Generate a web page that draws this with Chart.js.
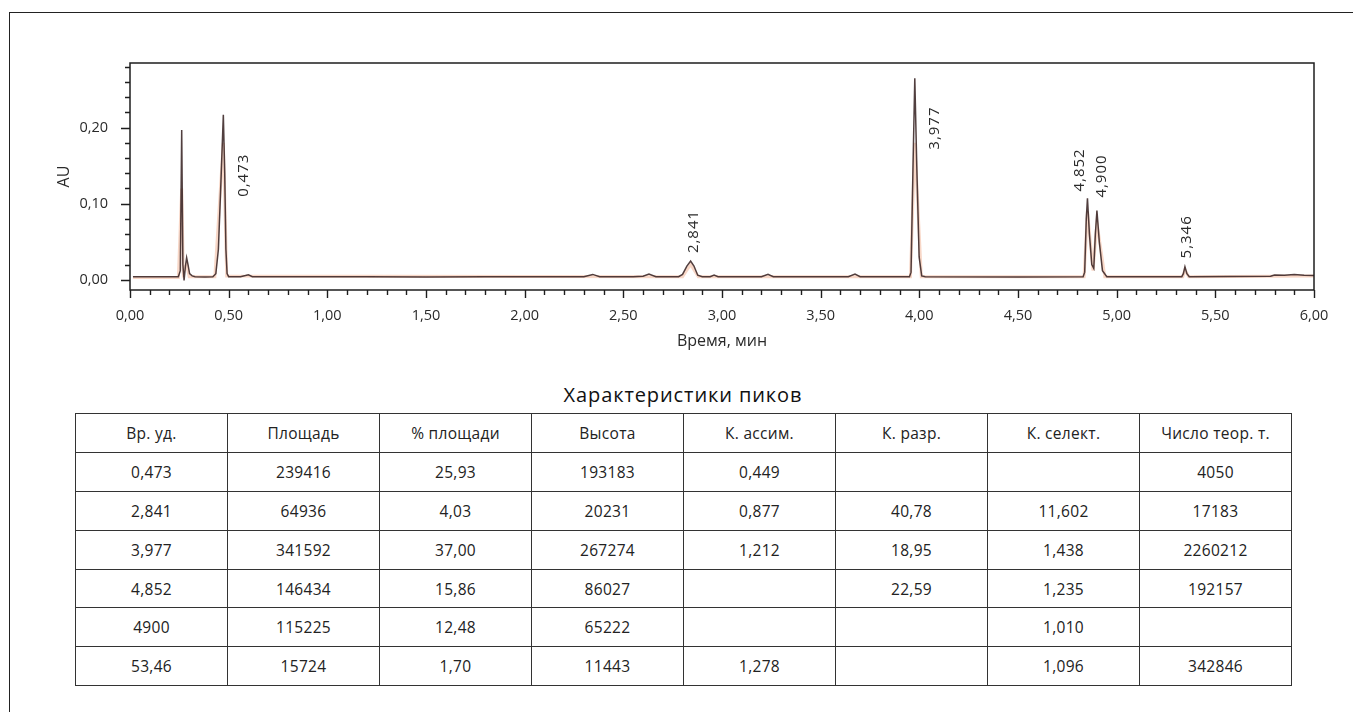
<!DOCTYPE html>
<html lang="ru">
<head>
<meta charset="utf-8">
<title>Хроматограмма</title>
<script src="https://cdn.jsdelivr.net/npm/chart.js@4.4.1/dist/chart.umd.min.js"></script>
<style>
  html, body { margin: 0; padding: 0; background: #ffffff; }
  body { width: 1353px; height: 712px; position: relative; overflow: hidden; font-family: "Open Sans", "Noto Sans", sans-serif; color: #222; }
  #frame { position: absolute; left: 9px; top: 12px; right: -4px; bottom: -4px; border-top: 1.5px solid #222; border-left: 1.5px solid #222; }
  #chart { position: absolute; left: 0; top: 0; }
  #tableTitle { position: absolute; left: 0; width: 1366px; top: 381px; text-align: center; font-size: 20px; letter-spacing: 0.9px; color: #111; }
  #peaks { position: absolute; left: 75px; top: 413px; border-collapse: collapse; table-layout: fixed; width: 1217px; font-size: 15.5px; letter-spacing: 0.3px; color: #222; }
  #peaks td, #peaks th { border: 1.5px solid #333; height: 37.9px; padding: 0; text-align: center; font-weight: 400; }
</style>
</head>
<body>
<div id="frame"></div>
<canvas id="chart" width="1353" height="360"></canvas>
<div id="tableTitle">Характеристики пиков</div>
<table id="peaks"><thead><tr id="headRow"></tr></thead><tbody id="bodyRows"></tbody></table>
<script>
// ---- Chromatogram trace (detector signal, AU vs. time, min) ----
const timeMin = [
  0.015, 0.10, 0.20, 0.245, 0.255, 0.262, 0.268, 0.274, 0.281, 0.287, 0.294, 0.302, 0.315, 0.33,
  0.38, 0.42, 0.435, 0.448, 0.461, 0.473, 0.480, 0.486, 0.492, 0.50, 0.56, 0.585, 0.60, 0.62,
  0.80, 1.00, 1.20, 1.50, 1.80, 2.00, 2.20, 2.30, 2.345, 2.38, 2.55, 2.60, 2.63, 2.665,
  2.78, 2.80, 2.822, 2.841, 2.858, 2.877, 2.90, 2.94, 2.96, 2.98, 3.20, 3.233, 3.26,
  3.64, 3.674, 3.70, 3.95, 3.958, 3.968, 3.977, 3.987, 3.999, 4.012, 4.03, 4.50,
  4.83, 4.838, 4.846, 4.852, 4.862, 4.874, 4.884, 4.892, 4.900, 4.912, 4.928, 4.95,
  5.33, 5.338, 5.346, 5.356, 5.368, 5.78, 5.80, 5.85, 5.90, 5.95, 6.00
];
const signalAU = [
  0.004, 0.0038, 0.004, 0.004, 0.012, 0.197, 0.02, -0.001, 0.018, 0.029, 0.02, 0.008, 0.005, 0.004,
  0.0035, 0.004, 0.008, 0.04, 0.13, 0.217, 0.14, 0.04, 0.008, 0.004, 0.004, 0.0055, 0.0065, 0.004,
  0.004, 0.0038, 0.004, 0.0035, 0.004, 0.0038, 0.004, 0.004, 0.007, 0.004, 0.004, 0.0045, 0.0075, 0.004,
  0.004, 0.007, 0.018, 0.0246, 0.018, 0.006, 0.004, 0.004, 0.006, 0.004, 0.004, 0.0072, 0.004,
  0.004, 0.0075, 0.004, 0.004, 0.01, 0.15, 0.265, 0.15, 0.03, 0.005, 0.004, 0.0035,
  0.004, 0.01, 0.08, 0.107, 0.06, 0.02, 0.015, 0.06, 0.091, 0.05, 0.012, 0.004,
  0.004, 0.008, 0.017, 0.008, 0.004, 0.0045, 0.0062, 0.006, 0.0068, 0.0058, 0.0055
];

// second (reference wavelength) trace, drawn underneath in orange
const refTimeMin = [
  0.015, 0.245, 0.262, 0.27, 0.287, 0.30, 0.43, 0.473, 0.49, 2.80, 2.841, 2.88,
  3.955, 3.977, 4.01, 4.835, 4.852, 4.88, 4.900, 4.94, 5.335, 5.346, 5.365, 6.00
];
const refSignalAU = [
  0.003, 0.003, 0.12, 0.01, 0.02, 0.004, 0.004, 0.18, 0.005, 0.004, 0.02, 0.004,
  0.004, 0.18, 0.004, 0.004, 0.09, 0.012, 0.075, 0.004, 0.004, 0.013, 0.004, 0.005
];

// annotated peaks (retention times, min)
const peakTimes = [0.473, 2.841, 3.977, 4.852, 4.900, 5.346];

// axis tick settings
const xTickStep = 0.1, xLabelStep = 0.5;
const yTickStep = 0.02, yLabelStep = 0.1;

// ---- Peak table ----
const tableHeaders = ["Вр. уд.", "Площадь", "% площади", "Высота", "К. ассим.", "К. разр.", "К. селект.", "Число теор. т."];
const colRetTime   = ["0,473", "2,841", "3,977", "4,852", "4900", "53,46"];
const colArea      = ["239416", "64936", "341592", "146434", "115225", "15724"];
const colAreaPct   = ["25,93", "4,03", "37,00", "15,86", "12,48", "1,70"];
const colHeight    = ["193183", "20231", "267274", "86027", "65222", "11443"];
const colAsym      = ["0,449", "0,877", "1,212", "", "", "1,278"];
const colResol     = ["", "40,78", "18,95", "22,59", "", ""];
const colSelect    = ["", "11,602", "1,438", "1,235", "1,010", "1,096"];
const colPlates    = ["4050", "17183", "2260212", "192157", "", "342846"];

// label placement of peak annotations: horizontal pixel shift, AU level where the text starts
const peakLabelPlacement = [
  { dx: 20, startAU: 0.109 },
  { dx: 3,  startAU: 0.035 },
  { dx: 20, startAU: 0.171 },
  { dx: -8, startAU: 0.116 },
  { dx: 5,  startAU: 0.108 },
  { dx: 2,  startAU: 0.028 }
];

const FONT = '"Open Sans", "Noto Sans", sans-serif';
const INK = '#2a2a2a';
const fmt = (v, d) => v.toFixed(d).replace('.', ',');
const isMultiple = (v, step) => Math.abs(v / step - Math.round(v / step)) < 1e-6;

// build table
const headRow = document.getElementById('headRow');
tableHeaders.forEach(h => { const th = document.createElement('th'); th.textContent = h; headRow.appendChild(th); });
const columns = [colRetTime, colArea, colAreaPct, colHeight, colAsym, colResol, colSelect, colPlates];
const bodyRows = document.getElementById('bodyRows');
colRetTime.forEach((_, r) => {
  const tr = document.createElement('tr');
  columns.forEach(col => { const td = document.createElement('td'); td.textContent = col[r]; tr.appendChild(td); });
  bodyRows.appendChild(tr);
});

// plot frame, tick marks and peak annotations
const chromPlugin = {
  id: 'chromDecor',
  afterDraw(chart) {
    const { ctx, chartArea: a, scales: { x, y } } = chart;
    ctx.save();
    ctx.strokeStyle = '#1e1e1e';
    ctx.lineWidth = 1.5;
    ctx.strokeRect(a.left, a.top, a.right - a.left, a.bottom - a.top);

    ctx.lineWidth = 1.4;
    ctx.beginPath();
    x.ticks.forEach(t => {
      const px = Math.round(x.getPixelForValue(t.value)) + 0.5;
      const len = isMultiple(t.value, xLabelStep) ? 8 : 5;
      ctx.moveTo(px, a.bottom);
      ctx.lineTo(px, a.bottom + len);
    });
    y.ticks.forEach(t => {
      const py = Math.round(y.getPixelForValue(t.value)) + 0.5;
      const len = isMultiple(t.value, yLabelStep) ? 9 : 5;
      ctx.moveTo(a.left, py);
      ctx.lineTo(a.left - len, py);
    });
    ctx.stroke();

    ctx.fillStyle = INK;
    ctx.font = '15px ' + FONT;
    ctx.textAlign = 'left';
    ctx.textBaseline = 'middle';
    peakTimes.forEach((t, i) => {
      const p = peakLabelPlacement[i];
      const px = x.getPixelForValue(t) + p.dx;
      const py = y.getPixelForValue(p.startAU);
      ctx.save();
      ctx.translate(px, py);
      ctx.rotate(-Math.PI / 2);
      ctx.letterSpacing = '1px';
      ctx.fillText(fmt(t, 3), 0, 0);
      ctx.restore();
    });
    ctx.restore();
  }
};

const toPoints = (xs, ys) => xs.map((v, i) => ({ x: v, y: ys[i] }));

new Chart(document.getElementById('chart'), {
  type: 'line',
  data: {
    datasets: [
      {
        label: 'Сигнал',
        data: toPoints(timeMin, signalAU),
        borderColor: 'rgba(62, 42, 42, 0.9)',
        borderWidth: 1.5,
        pointRadius: 0,
        tension: 0,
        order: 0
      },
      {
        label: 'Сигнал 2',
        data: toPoints(refTimeMin, refSignalAU),
        borderColor: 'rgba(235, 140, 95, 0.35)',
        borderWidth: 3,
        pointRadius: 0,
        tension: 0,
        order: 1
      }
    ]
  },
  options: {
    responsive: false,
    animation: false,
    devicePixelRatio: 1,
    layout: { padding: { left: 0, top: 63, right: 39, bottom: 0 } },
    plugins: { legend: { display: false }, tooltip: { enabled: false } },
    scales: {
      x: {
        type: 'linear',
        min: 0, max: 6,
        grid: { display: false, drawTicks: false },
        border: { display: false },
        afterFit: s => { s.height = 70; },
        ticks: {
          stepSize: xTickStep,
          autoSkip: false,
          maxRotation: 0,
          padding: 17,
          color: INK,
          font: { family: FONT, size: 14.5 },
          callback: v => isMultiple(v, xLabelStep) ? fmt(v, 2) : ''
        },
        title: {
          display: true,
          text: 'Время, мин',
          color: INK,
          font: { family: FONT, size: 16 },
          padding: { top: 0, bottom: 9 }
        }
      },
      y: {
        type: 'linear',
        min: -0.0135, max: 0.285,
        grid: { display: false, drawTicks: false },
        border: { display: false },
        afterFit: s => { s.width = 130; },
        ticks: {
          stepSize: yTickStep,
          includeBounds: false,
          autoSkip: false,
          padding: 22,
          color: INK,
          font: { family: FONT, size: 14.5 },
          callback: v => isMultiple(v, yLabelStep) ? fmt(v, 2) : ''
        },
        title: {
          display: true,
          text: 'AU',
          color: INK,
          font: { family: FONT, size: 16 },
          padding: { top: 55, bottom: 0 }
        }
      }
    }
  },
  plugins: [chromPlugin]
});
</script>
</body>
</html>
